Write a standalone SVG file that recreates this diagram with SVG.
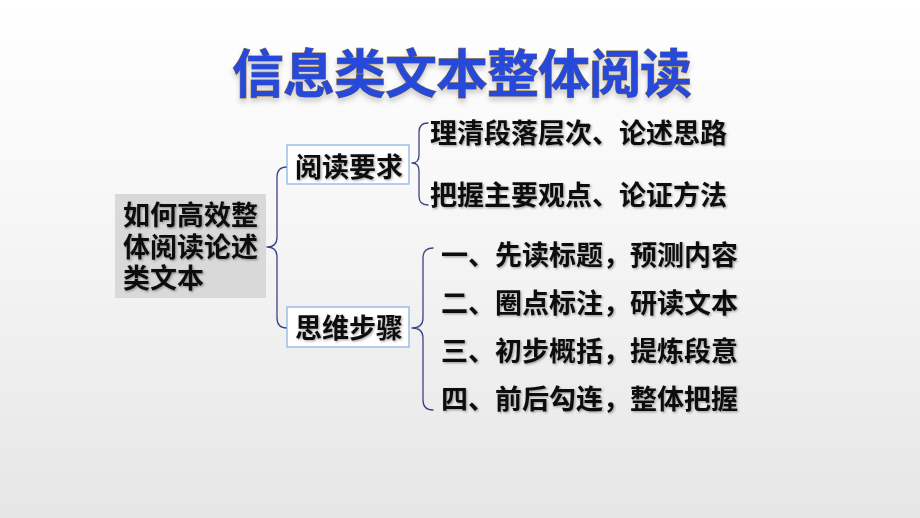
<svg xmlns="http://www.w3.org/2000/svg" width="920" height="518" viewBox="0 0 920 518">
  <defs>
    <linearGradient id="bg" x1="0" y1="0" x2="0" y2="1">
      <stop offset="0" stop-color="#ffffff"/>
      <stop offset="0.35" stop-color="#f8f8f8"/>
      <stop offset="1" stop-color="#e6e6e6"/>
    </linearGradient>
    <filter id="shadow" x="-5%" y="-20%" width="110%" height="140%">
      <feDropShadow dx="1.2" dy="1.2" stdDeviation="0.8" flood-color="#000" flood-opacity="0.35"/>
    </filter>
    <filter id="tshadow" x="-5%" y="-20%" width="110%" height="160%">
      <feDropShadow dx="0" dy="4" stdDeviation="2.5" flood-color="#000" flood-opacity="0.18"/>
    </filter>
    <style>
      .title { font-family: "Noto Sans CJK SC", "Noto Sans CJK JP", sans-serif; font-weight: 700; font-size: 52px; fill: #2549d9; stroke: #8b6d3f; stroke-width: 0.9; paint-order: stroke; }
      .t { font-family: "Liberation Sans", "Noto Sans CJK SC", "Noto Sans CJK JP", sans-serif; font-weight: 700; font-size: 27px; fill: #111; }
      .box { fill: #ffffff; stroke: #8eb4e3; stroke-width: 1.3; }
      .brace { fill: none; stroke: #3d4385; stroke-width: 1.3; stroke-linejoin: round; stroke-linecap: round; }
    </style>
  </defs>

  <rect x="0" y="0" width="920" height="518" fill="url(#bg)"/>

  <g id="title">
    <text class="title" x="232" y="93" letter-spacing="-1" filter="url(#tshadow)">信息类文本整体阅读</text>
  </g>

  <g id="connectors">
    <path class="brace" d="M287,167 Q277,167 277,177 L277,237 Q277,247 267,247 Q277,247 277,257 L277,318 Q277,328 287,328"/>
    <path class="brace" d="M428,123 Q419,123 419,132 L419,155 Q419,163 412,163 Q419,163 419,171 L419,196 Q419,205 428,205"/>
    <path class="brace" d="M433,248 Q423,248 423,258 L423,318 Q423,328 412,328 Q423,328 423,338 L423,400 Q423,410 433,410"/>
  </g>

  <g id="root">
    <rect x="115" y="194" width="151" height="104" fill="#d9d9d9"/>
    <g filter="url(#shadow)">
      <text class="t" x="123" y="225">如何高效整</text>
      <text class="t" x="123" y="256.5">体阅读论述</text>
      <text class="t" x="123" y="288">类文本</text>
    </g>
  </g>

  <g id="req">
    <rect class="box" x="287" y="145" width="122" height="39"/>
    <text class="t" x="295" y="177" filter="url(#shadow)">阅读要求</text>
  </g>

  <g id="steps">
    <rect class="box" x="287" y="307" width="122" height="40"/>
    <text class="t" x="295" y="338" filter="url(#shadow)">思维步骤</text>
  </g>

  <g id="req-items" filter="url(#shadow)">
    <text class="t" x="430" y="143">理清段落层次、论述思路</text>
    <text class="t" x="430" y="205">把握主要观点、论证方法</text>
  </g>

  <g id="step-items" filter="url(#shadow)">
    <text class="t" x="441" y="265">一、先读标题，预测内容</text>
    <text class="t" x="441" y="313">二、圈点标注，研读文本</text>
    <text class="t" x="441" y="361">三、初步概括，提炼段意</text>
    <text class="t" x="441" y="409">四、前后勾连，整体把握</text>
  </g>
</svg>
